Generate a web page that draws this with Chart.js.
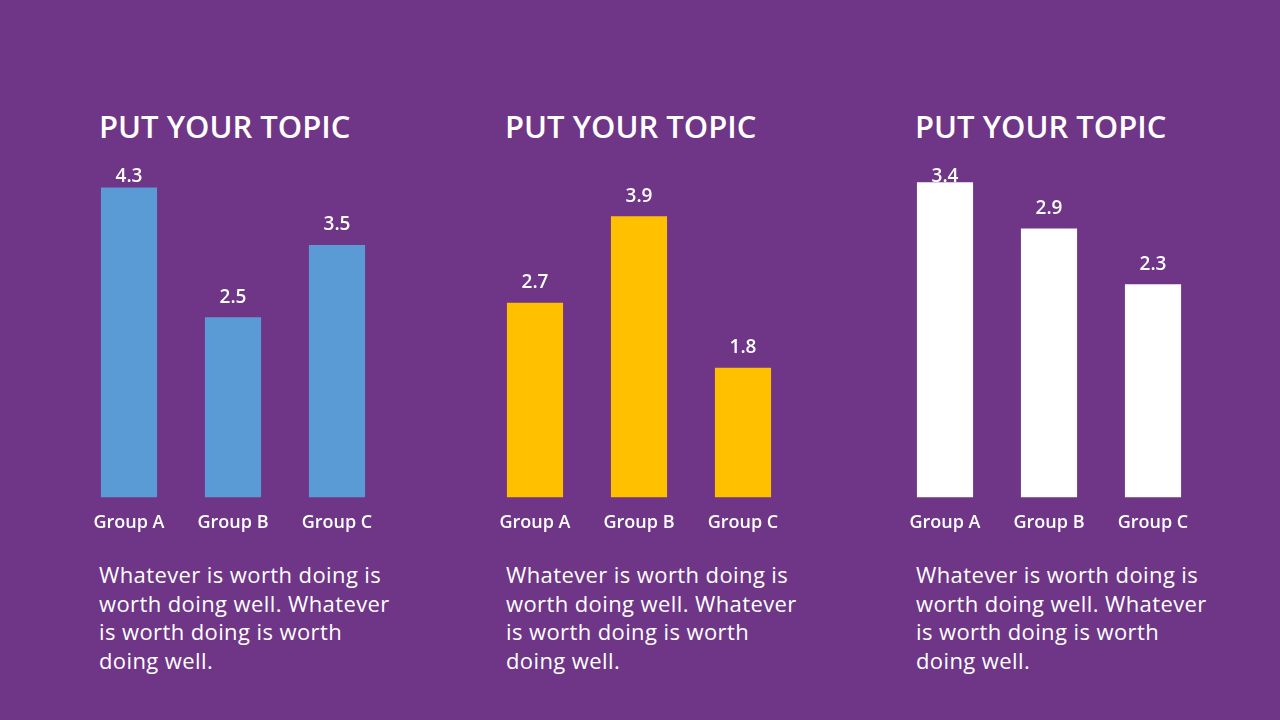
<!DOCTYPE html>
<html>
<head>
<meta charset="utf-8">
<script src="https://cdn.jsdelivr.net/npm/chart.js@4"></script>
<style>
    body { margin: 0; width: 1280px; height: 720px; background: #6f3586; overflow: hidden; font-family: 'Open Sans', sans-serif; color: #fff; }
    .title { position: absolute; top: 105px; font-size: 31px; font-weight: 600; white-space: nowrap; }
    .text { position: absolute; top: 560px; font-size: 22px; line-height: 28.7px; white-space: nowrap; letter-spacing: 0.4px; }
    .box { position: absolute; top: 153px; width: 312px; height: 396px; }
</style>
</head>
<body>
<div class="title" style="left:99px">PUT YOUR TOPIC</div>
<div class="title" style="left:505px">PUT YOUR TOPIC</div>
<div class="title" style="left:915px">PUT YOUR TOPIC</div>

<div class="box" style="left:77px"><canvas id="chart1"></canvas></div>
<div class="box" style="left:483px"><canvas id="chart2"></canvas></div>
<div class="box" style="left:893px"><canvas id="chart3"></canvas></div>

<div class="text" style="left:99px">Whatever is worth doing is<br>worth doing well. Whatever<br>is worth doing is worth<br>doing well.</div>
<div class="text" style="left:506px">Whatever is worth doing is<br>worth doing well. Whatever<br>is worth doing is worth<br>doing well.</div>
<div class="text" style="left:916px">Whatever is worth doing is<br>worth doing well. Whatever<br>is worth doing is worth<br>doing well.</div>

<script>
const groups = ['Group A', 'Group B', 'Group C']
const values1 = [4.3, 2.5, 3.5]
const values2 = [2.7, 3.9, 1.8]
const values3 = [3.4, 2.9, 2.3]
const axisMax = [4.5, 4.5, 3.5]

// value above each bar, kept inside the top of the plot like the original
const barLabels = {
    id: 'barLabels',
    afterDatasetsDraw(chart) {
        const ctx = chart.ctx
        const meta = chart.getDatasetMeta(0)
        ctx.save()
        ctx.fillStyle = '#fff'
        ctx.font = '600 19px "Open Sans"'
        ctx.textAlign = 'center'
        ctx.textBaseline = 'middle'
        meta.data.forEach((bar, i) => {
            let y = Math.max(bar.y - 20, chart.chartArea.top + 4)
            ctx.fillText(chart.data.datasets[0].data[i].toFixed(1), bar.x, y)
        })
        ctx.restore()
    }
}

function makeChart(id, values, color, max) {
    return new Chart(document.getElementById(id), {
        type: 'bar',
        data: {
            labels: groups,
            datasets: [{
                data: values,
                backgroundColor: color,
                categoryPercentage: 1,
                barPercentage: 0.54
            }]
        },
        options: {
            responsive: true,
            maintainAspectRatio: false,
            animation: false,
            layout: { padding: { top: 20, left: 0, right: 0, bottom: 0 } },
            plugins: { legend: { display: false }, tooltip: { enabled: false } },
            scales: {
                x: {
                    grid: { display: false, drawTicks: false },
                    border: { display: false },
                    ticks: { color: '#fff', padding: 15, font: { family: 'Open Sans', size: 18, weight: '600' } }
                },
                y: { display: false, min: 0, max: max }
            }
        },
        plugins: [barLabels]
    })
}

makeChart('chart1', values1, '#5b9bd5', axisMax[0])
makeChart('chart2', values2, '#ffc000', axisMax[1])
makeChart('chart3', values3, '#ffffff', axisMax[2])
</script>
</body>
</html>
